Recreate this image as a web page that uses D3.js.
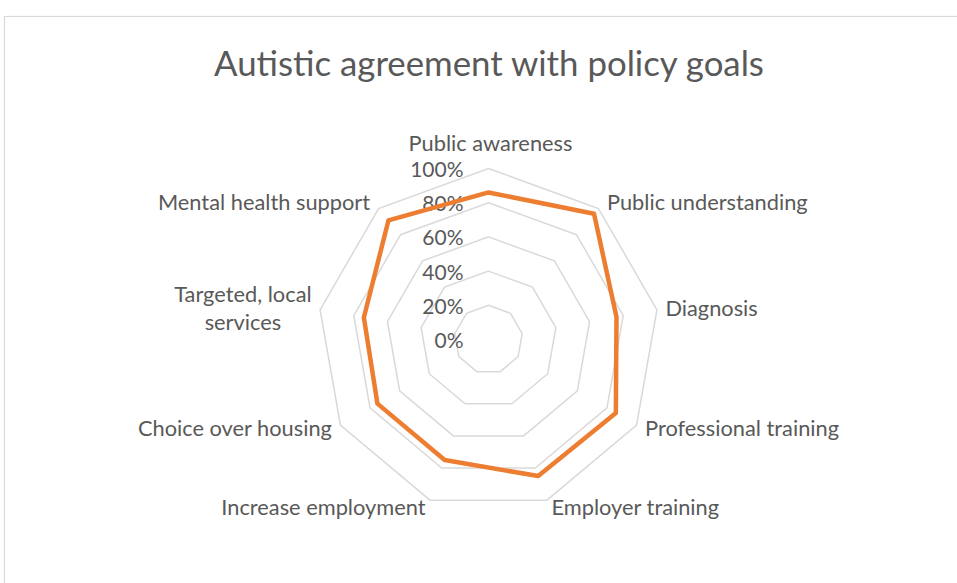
<!DOCTYPE html>
<html>
<head>
<meta charset="utf-8">
<script src="https://cdn.jsdelivr.net/npm/d3@7"></script>
<style>
  html, body { margin: 0; padding: 0; background: #fff; }
  svg { display: block; }
  text { font-family: Lato, "Open Sans", "Liberation Sans", sans-serif; fill: #595959; }
</style>
</head>
<body>
<svg id="chart" width="957" height="583"></svg>
<script>
// Survey results: share of autistic respondents agreeing with each policy goal
const categories = [
  "Public awareness",
  "Public understanding",
  "Diagnosis",
  "Professional training",
  "Employer training",
  "Increase employment",
  "Choice over housing",
  "Targeted, local services",
  "Mental health support"
];
const agreement = [86, 96, 76, 86, 85, 75, 75, 74, 91];
const ticks = [0, 20, 40, 60, 80, 100];
const title = "Autistic agreement with policy goals";

const width = 957, height = 583;
const cx = 488.5, cy = 339.5, outerR = 171;

const svg = d3.select("#chart");

// chart-area frame (runs off the right and bottom edges)
svg.append("rect")
  .attr("x", 4.5).attr("y", 16.5)
  .attr("width", width + 20).attr("height", height + 20)
  .attr("fill", "#fff")
  .attr("stroke", "#d9d9d9").attr("stroke-width", 1.2);

svg.append("text")
  .attr("x", 489).attr("y", 76)
  .attr("text-anchor", "middle")
  .attr("font-size", 34.8)
  .text(title);

const r = d3.scaleLinear().domain([0, 100]).range([0, outerR]);
const angle = d3.scalePoint()
  .domain(categories)
  .range([0, 2 * Math.PI * (categories.length - 1) / categories.length]);

const g = svg.append("g").attr("transform", `translate(${cx},${cy})`);

const radial = d3.lineRadial()
  .angle(d => angle(d.cat))
  .radius(d => r(d.v))
  .curve(d3.curveLinearClosed);

// concentric grid polygons
g.selectAll("path.grid")
  .data(ticks.filter(t => t > 0))
  .join("path")
  .attr("class", "grid")
  .attr("d", t => radial(categories.map(c => ({ cat: c, v: t }))))
  .attr("fill", "none")
  .attr("stroke", "#d9d9d9")
  .attr("stroke-width", 1.5);

// value axis labels, right-aligned just left of the vertical axis
g.selectAll("text.tick")
  .data(ticks)
  .join("text")
  .attr("class", "tick")
  .attr("x", -25)
  .attr("y", t => -r(t) + 8.5)
  .attr("text-anchor", "end")
  .attr("font-size", 21)
  .text(t => t + "%");

// data series
g.append("path")
  .datum(categories.map((c, i) => ({ cat: c, v: agreement[i] })))
  .attr("d", radial)
  .attr("fill", "none")
  .attr("stroke", "#ED7D31")
  .attr("stroke-width", 4.5)
  .attr("stroke-linejoin", "round");

// category labels around the outer ring
const fs = 21.8, lineH = 28, maxW = 214;
categories.forEach(c => {
  const a = angle(c);
  const s = Math.sin(a), co = Math.cos(a);
  const vx = r(100) * s, vy = -r(100) * co;

  const t = g.append("text").attr("font-size", fs);
  // word wrap
  const words = c.split(" ");
  let lines = [], cur = "";
  const probe = g.append("text").attr("font-size", fs);
  words.forEach(w => {
    const trial = cur ? cur + " " + w : w;
    probe.text(trial);
    if (probe.node().getComputedTextLength() > maxW && cur) { lines.push(cur); cur = w; }
    else cur = trial;
  });
  lines.push(cur);
  const widths = lines.map(l => { probe.text(l); return probe.node().getComputedTextLength(); });
  probe.remove();
  const blockW = d3.max(widths);

  let anchorX, centerY;
  if (Math.abs(s) < 0.1 && co > 0) {
    anchorX = vx + 2;
    centerY = vy - 25;
  } else {
    const off = Math.abs(s) > 0.5 ? 8.5 : 4.5;
    anchorX = s > 0 ? vx + off : vx - off;
    centerY = vy + (co > 0.5 ? -6 : co > 0 ? -1.5 : co > -0.7 ? 3 : 7);
  }
  let midX;
  if (Math.abs(s) < 0.1) midX = anchorX;
  else midX = s > 0 ? anchorX + blockW / 2 : anchorX - blockW / 2;

  const firstBase = centerY + 7.5 - (lines.length - 1) * lineH / 2;
  t.attr("text-anchor", "middle");
  lines.forEach((l, i) => {
    t.append("tspan")
      .attr("x", midX)
      .attr("y", firstBase + i * lineH)
      .text(l);
  });
});
</script>
</body>
</html>
